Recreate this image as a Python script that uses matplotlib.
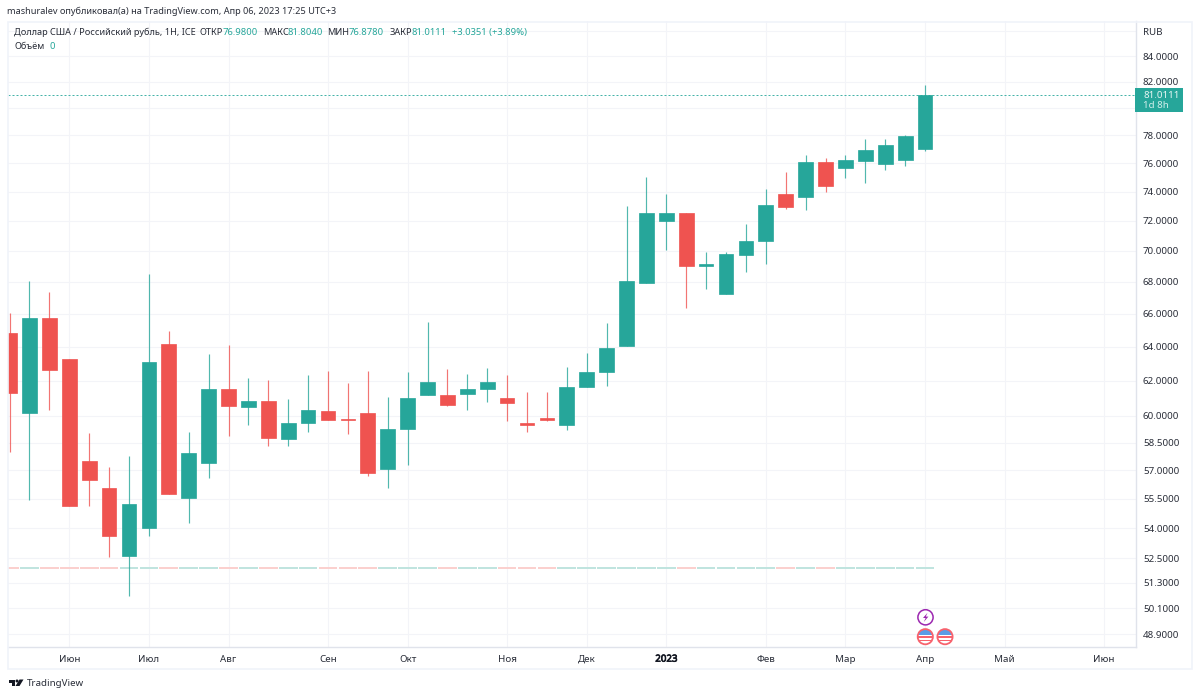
import numpy as np
import matplotlib
matplotlib.use("Agg")
import matplotlib.pyplot as plt
import matplotlib.patheffects as pe
from matplotlib.patches import Rectangle, Circle, Polygon

plt.rcParams["font.family"] = ["Noto Sans", "DejaVu Sans"]

# weekly USD/RUB candles
opens = [64.82, 60.14, 65.76, 63.27, 57.51, 56.04, 52.62, 54.02, 64.17, 55.52, 57.37, 61.52,
         60.51, 60.80, 58.72, 59.58, 60.27, 59.82, 60.14, 57.07, 59.23, 61.17, 61.15, 61.23,
         61.50, 60.99, 59.58, 59.86, 59.49, 61.60, 62.50, 64.01, 67.95, 72.02, 72.54, 68.99,
         67.22, 69.75, 70.67, 73.84, 73.63, 76.06, 75.68, 76.18, 75.95, 76.25, 76.98]
highs = [66.04, 68.06, 67.33, 63.27, 59.03, 57.19, 57.79, 68.52, 64.96, 59.10, 63.57, 64.09,
         62.16, 62.04, 60.95, 62.35, 62.58, 61.88, 62.58, 61.05, 62.49, 65.52, 62.68, 62.39,
         62.72, 62.31, 61.34, 61.34, 62.78, 63.61, 65.43, 72.98, 75.01, 73.84, 72.54, 69.90,
         69.94, 71.80, 74.17, 75.35, 76.59, 76.35, 76.59, 77.71, 77.71, 78.05, 81.804]
lows = [58.01, 55.45, 60.32, 55.11, 55.11, 52.57, 50.69, 53.58, 55.77, 54.28, 56.61, 58.87,
        59.49, 58.34, 58.34, 59.07, 59.78, 58.95, 56.68, 56.06, 57.26, 61.17, 60.55, 60.29,
        60.74, 59.67, 59.09, 59.71, 59.17, 61.60, 61.71, 64.01, 67.95, 70.07, 66.39, 67.57,
        67.22, 68.62, 69.15, 72.82, 72.74, 74.00, 74.92, 74.63, 75.53, 75.80, 76.878]
closes = [61.28, 65.76, 62.62, 55.11, 56.50, 53.61, 55.25, 63.06, 55.77, 57.95, 61.52, 60.55,
          60.80, 58.75, 59.60, 60.31, 59.78, 59.75, 56.86, 59.25, 60.99, 61.92, 60.62, 61.52,
          61.92, 60.69, 59.49, 59.75, 61.62, 62.52, 63.89, 68.04, 72.54, 72.54, 68.99, 69.15,
          69.79, 70.67, 73.10, 72.96, 76.06, 74.42, 76.23, 76.95, 77.32, 77.976, 81.0111]
volume_level = 52.0

month_pos = [3, 7, 11, 16, 20, 25, 29, 33, 38, 42, 46, 50, 55]
month_labels = ["Июн", "Июл", "Авг", "Сен", "Окт", "Ноя", "Дек", "2023", "Фев", "Мар", "Апр", "Май", "Июн"]
price_ticks = [86, 84, 82, 80, 78, 76, 74, 72, 70, 68, 66, 64, 62, 60, 58.5, 57, 55.5, 54, 52.5, 51.3, 50.1, 48.9]
price_labels = ["RUB", "84.0000", "82.0000", ""] + [f"{p:.4f}" for p in price_ticks[4:]]

UP = "#26a69a"
DOWN = "#ef5350"
GRID = "#f3f4f8"
BORDER = "#e0e3eb"
TEXT = "#2a2e39"

W, H = 1200, 697
fig = plt.figure(figsize=(W / 100, H / 100), dpi=100, facecolor="white")
ax = fig.add_axes([8 / W, (H - 647) / H, 1128 / W, 626 / H])

x = np.arange(len(opens))
o, h, l, c = map(np.array, (opens, highs, lows, closes))
colors = np.where(c >= o, UP, DOWN)

ax.set_yscale("log")
ax.vlines(x, l, h, colors=colors, linewidth=0.85, alpha=0.8, zorder=3)
ax.bar(x, np.abs(c - o), bottom=np.minimum(o, c), width=0.74, color=colors,
       edgecolor=colors, linewidth=0.5, zorder=4)

# volume is 0 everywhere, it shows as a flat strip of pale dashes
vol_colors = np.where(c >= o, "#bfe4df", "#fbcfcd")
ax.hlines([volume_level] * len(x), x - 0.47, x + 0.47, colors=vol_colors, linewidth=1.4, zorder=2)

ax.axhline(closes[-1], color=UP, linestyle=(0, (2, 2)), linewidth=0.72, alpha=0.85, zorder=2)

ax.set_xlim(-0.08, 56.6)
ax.set_ylim(48.31, 86.82)
ax.set_xticks(month_pos)
ax.set_xticklabels(month_labels)
ax.set_yticks(price_ticks)
ax.set_yticklabels(price_labels)
ax.minorticks_off()
ax.yaxis.tick_right()
ax.tick_params(axis="both", length=0, labelsize=7, labelcolor=TEXT)
ax.tick_params(axis="x", pad=5.5)
ax.tick_params(axis="y", pad=5)
# the month font has no usable bold here, so thicken the year label with a stroke
year_label = ax.xaxis.get_major_ticks()[7].label1
year_label.set_color("#131722")
year_label.set_path_effects([pe.withStroke(linewidth=0.5, foreground="#131722")])
ax.grid(True, color=GRID, linewidth=0.8)
ax.set_axisbelow(True)
for side in ("top", "left"):
    ax.spines[side].set_visible(False)
for side in ("right", "bottom"):
    ax.spines[side].set_color(BORDER)
    ax.spines[side].set_linewidth(1.0)

# overlay in pixel coordinates for the chrome around the chart
ui = fig.add_axes([0, 0, 1, 1], facecolor="none", zorder=5)
ui.set_xlim(0, W)
ui.set_ylim(H, 0)
ui.axis("off")

ui.add_patch(Rectangle((7.5, 21.5), 1184, 647.5, fill=False, edgecolor="#f0f3fa", linewidth=1.2))

ui.text(7, 11, "mashuralev опубликовал(а) на TradingView.com, Апр 06, 2023 17:25 UTC+3",
        fontsize=6.6, color=TEXT, va="center")

legend_parts = [
    (14.5, "Доллар США / Российский рубль, 1Н, ICE", TEXT, 6.6),
    (200, "ОТКР", TEXT, 6.6), (222.5, "76.9800", UP, 6.8),
    (263, "МАКС", TEXT, 6.6), (287.5, "81.8040", UP, 6.8),
    (327.5, "МИН", TEXT, 6.6), (349, "76.8780", UP, 6.8),
    (390, "ЗАКР", TEXT, 6.6), (412, "81.0111", UP, 6.8),
    (452, "+3.0351 (+3.89%)", UP, 6.8),
]
for px, s, col, size in legend_parts:
    ui.text(px, 32.5, s, fontsize=size, color=col, va="center")
ui.text(14.5, 46.5, "Объём", fontsize=6.6, color=TEXT, va="center")
ui.text(50, 46.5, "0", fontsize=6.8, color=UP, va="center")

# last price tag
ui.add_patch(Rectangle((1135, 88), 48, 24, facecolor=UP, edgecolor="none"))
ui.text(1143, 95, "81.0111", fontsize=7, color="#e6f5f3", va="center")
ui.text(1143, 105.5, "1d 8h", fontsize=7, color="#d2eeeb", va="center")


def draw_flag(cx, cy):
    disc = Circle((cx, cy), 7.4, facecolor="white", edgecolor="none")
    ui.add_patch(disc)
    for top, height, col in [(-7.4, 6.0, "#5a9be6"), (-1.0, 1.8, "#f7626d"), (3.2, 1.4, "#f7626d")]:
        band = Rectangle((cx - 8, cy + top), 16, height, facecolor=col, edgecolor="none")
        ui.add_patch(band)
        band.set_clip_path(disc)
    ui.add_patch(Circle((cx, cy), 7.6, fill=False, edgecolor="#f7626d", linewidth=1.3))


ui.add_patch(Circle((925.5, 617.3), 7.6, facecolor="white", edgecolor="#9c27b0", linewidth=1.1))
ui.add_patch(Polygon([(927.5, 612.8), (923, 618), (925.6, 618), (923.8, 622), (928.4, 616.6), (925.8, 616.6)],
                     facecolor="#9c27b0", edgecolor="none"))
draw_flag(925.3, 636.7)
draw_flag(945, 636.7)

# TradingView mark: T, dot, V
ui.add_patch(Polygon([(8.5, 679.5), (15, 679.5), (15, 686), (11.8, 686), (11.8, 682.5), (8.5, 682.5)],
                     facecolor="#131722", edgecolor="none"))
ui.add_patch(Circle((17, 681), 1.5, facecolor="#131722", edgecolor="none"))
ui.add_patch(Polygon([(19.5, 679.5), (23.5, 679.5), (19.5, 686), (15.5, 686)],
                     facecolor="#131722", edgecolor="none"))
ui.text(26.5, 683, "TradingView", fontsize=7.0, color=TEXT, va="center")

fig.savefig("out.png", dpi=100, facecolor="white")
